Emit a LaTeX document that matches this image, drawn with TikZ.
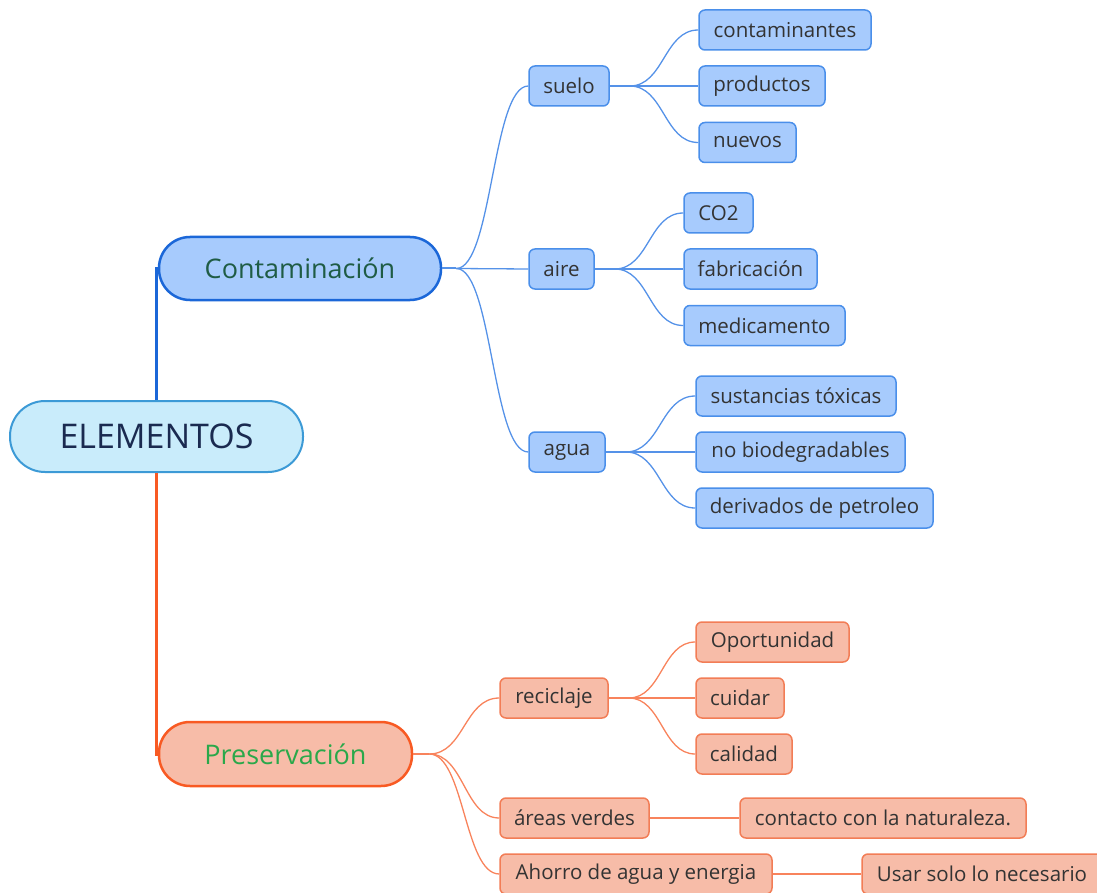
\documentclass[tikz,border=0pt]{standalone}
\usepackage{fontspec}
\setmainfont{Open Sans}
\usetikzlibrary{calc}
\definecolor{bfill}{HTML}{A7CBFD}
\definecolor{bline}{HTML}{4A8FEA}
\definecolor{bmain}{HTML}{1B67D8}
\definecolor{bconn}{HTML}{5592E8}
\definecolor{efill}{HTML}{C9ECFB}
\definecolor{eline}{HTML}{3C9AD6}
\definecolor{etext}{HTML}{1A2A50}
\definecolor{ctext}{HTML}{1F5C45}
\definecolor{ofill}{HTML}{F7BCA8}
\definecolor{oline}{HTML}{F27D56}
\definecolor{omain}{HTML}{F85A23}
\definecolor{oconn}{HTML}{F8835C}
\definecolor{ptext}{HTML}{2AA84A}
\definecolor{stext}{HTML}{333333}
\tikzset{
  sbox/.style={rounded corners=6pt, line width=1.5pt, minimum height=40pt, inner sep=0pt, text=stext, font=\fontsize{20.5}{24}\selectfont},
  bbox/.style={sbox, fill=bfill, draw=bline},
  obox/.style={sbox, fill=ofill, draw=oline},
  bc/.style={draw=bconn, line width=1.3pt},
  oc/.style={draw=oconn, line width=1.3pt},
  curv/.style={to path={.. controls ($(\tikztostart)!0.5!(\tikztostart -| \tikztotarget)$) and ($(\tikztotarget)!0.5!(\tikztotarget -| \tikztostart)$) .. (\tikztotarget)}}
}
\begin{document}
\begin{tikzpicture}[x=1pt,y=-1pt]
\useasboundingbox (0,0) rectangle (1097,893);
\clip (0,0) rectangle (1097,893);
% main nodes
\node[rounded corners=35pt, fill=efill, draw=eline, line width=2pt, minimum width=293pt, minimum height=71pt, inner sep=0pt, text=etext, font=\fontsize{34}{40}\selectfont] (E) at (156.5,436.5) {ELEMENTOS};
\node[rounded corners=31pt, fill=bfill, draw=bmain, line width=2.5pt, minimum width=282pt, minimum height=63pt, inner sep=0pt, text=ctext, font=\fontsize{27}{32}\selectfont] (C) at (300,268.5) {Contaminación};
\node[rounded corners=31pt, fill=ofill, draw=omain, line width=2.5pt, minimum width=253pt, minimum height=64pt, inner sep=0pt, text=ptext, font=\fontsize{27}{32}\selectfont] (P) at (285.5,754) {Preservación};
% level 2 blue
\node[bbox, minimum width=80pt] (suelo) at (569,86) {suelo};
\node[bbox, minimum width=65pt] (aire) at (561.5,269) {aire};
\node[bbox, minimum width=76pt] (agua) at (567,452) {agua};
% level 3 blue
\node[bbox, minimum width=172pt] (cont) at (785,30) {contaminantes};
\node[bbox, minimum width=126pt] (prod) at (762,86) {productos};
\node[bbox, minimum width=97pt] (nuev) at (747.5,142.5) {nuevos};
\node[bbox, minimum width=69pt] (co2) at (718.5,213) {CO2};
\node[bbox, minimum width=133pt] (fabr) at (750.5,269) {fabricación};
\node[bbox, minimum width=161pt] (medi) at (764.5,325.5) {medicamento};
\node[bbox, minimum width=200pt] (sust) at (796,396) {sustancias tóxicas};
\node[bbox, minimum width=209pt] (nobi) at (800.5,452) {no biodegradables};
\node[bbox, minimum width=237pt] (deri) at (814.5,508) {derivados de petroleo};
% level 2 orange
\node[obox, minimum width=108pt] (reci) at (554,698) {reciclaje};
\node[obox, minimum width=149pt] (area) at (574.5,818) {áreas verdes};
\node[obox, minimum width=272pt] (ahor) at (636,874) {Ahorro de agua y energia};
% level 3 orange
\node[obox, minimum width=153pt] (opor) at (772.5,642) {Oportunidad};
\node[obox, minimum width=88pt] (cuid) at (740,698) {cuidar};
\node[obox, minimum width=96pt] (cali) at (744,754) {calidad};
\node[obox, minimum width=286pt] (cnat) at (883,818) {contacto con la naturaleza.};
\node[obox, minimum width=240pt] (usar) at (982,874) {Usar solo lo necesario};
% trunk
\draw[draw=bmain, line width=3pt] (E.north) |- (C.west);
\draw[draw=omain, line width=3pt] (E.south) |- (P.west);
% junctions
\coordinate (jC) at ($(C.east)+(14,0)$);
\coordinate (jS) at ($(suelo.east)+(20,0)$);
\coordinate (jA) at ($(aire.east)+(20,0)$);
\coordinate (jW) at ($(agua.east)+(20,0)$);
\coordinate (jP) at ($(P.east)+(16,0)$);
\coordinate (jR) at ($(reci.east)+(20,0)$);
\draw[bc, line width=2pt] (C.east) -- (jC);
\draw[bc, line width=2.5pt] (suelo.east) -- (jS);
\draw[bc, line width=2.5pt] (aire.east) -- (jA);
\draw[bc, line width=2.5pt] (agua.east) -- (jW);
\draw[oc, line width=2pt] (P.east) -- (jP);
\draw[oc, line width=2.5pt] (reci.east) -- (jR);
% blue connectors
\draw[bc] (jC) to[curv] (suelo.west);
\draw[bc] (jC) -- (aire.west);
\draw[bc] (jC) to[curv] (agua.west);
\draw[bc] (jS) to[curv] (cont.west);
\draw[bc] (jS) -- (prod.west);
\draw[bc] (jS) to[curv] (nuev.west);
\draw[bc] (jA) to[curv] (co2.west);
\draw[bc] (jA) -- (fabr.west);
\draw[bc] (jA) to[curv] (medi.west);
\draw[bc] (jW) to[curv] (sust.west);
\draw[bc] (jW) -- (nobi.west);
\draw[bc] (jW) to[curv] (deri.west);
% orange connectors
\draw[oc] (jP) to[curv] (reci.west);
\draw[oc] (jP) to[curv] (area.west);
\draw[oc] (jP) to[curv] (ahor.west);
\draw[oc] (jR) to[curv] (opor.west);
\draw[oc] (jR) -- (cuid.west);
\draw[oc] (jR) to[curv] (cali.west);
\draw[oc] (area.east) -- (cnat.west);
\draw[oc] (ahor.east) -- (usar.west);
\end{tikzpicture}
\end{document}
